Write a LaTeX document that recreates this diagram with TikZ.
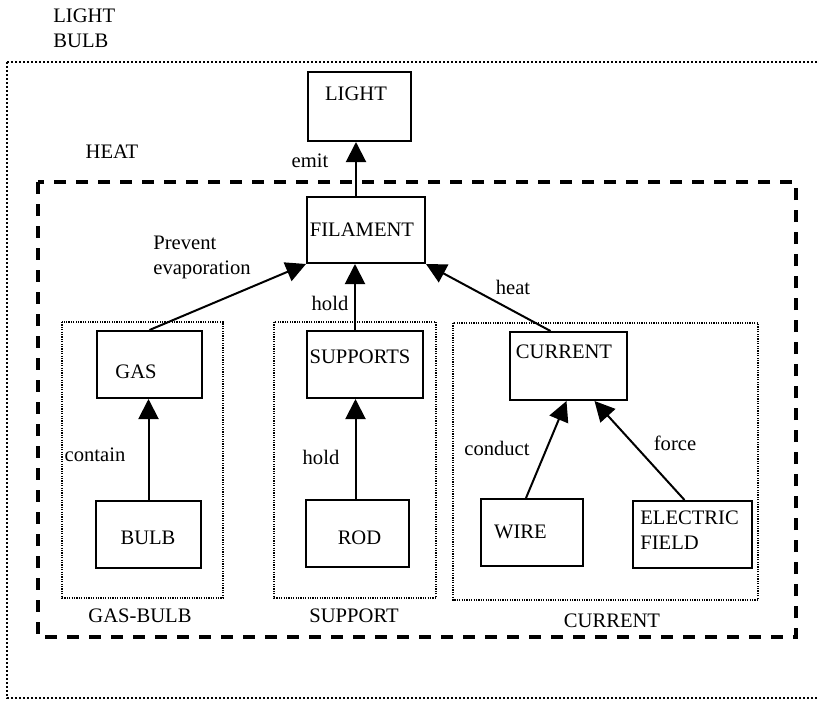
\documentclass[tikz,border=0pt]{standalone}
\usepackage{fontspec}
\setmainfont{Liberation Serif}
\usetikzlibrary{arrows.meta}

\begin{document}
\begin{tikzpicture}[x=0.5pt,y=-0.5pt,
        every node/.style={font=\fontsize{10.3}{12.5}\selectfont,inner sep=0pt},
        box/.style={draw,line width=1pt,minimum height=33.5pt},
        arr/.style={-{Triangle[width=10pt,length=10pt]},line width=1pt},
        grp/.style={line width=0.8pt,dash pattern=on 0.6pt off 0.6pt},
        outer/.style={line width=1.3pt,dash pattern=on 1.1pt off 0.9pt},
        heatbox/.style={line width=1.7pt,dash pattern=on 6pt off 5pt}
    ]
        \clip (0,0) rectangle (819,702);

        % frames
        \draw[outer] (7,62) rectangle (830,698);
        \draw[heatbox] (38,182) rectangle (796,637);
        \draw[grp] (62,322) rectangle (223,598);
        \draw[grp] (274,322) rectangle (436,598);
        \draw[grp] (453,323) rectangle (758,600);

        \node[anchor=west,align=left] (lb) at (53,28) {LIGHT\\BULB};
        \node (heatlbl) at (112,152) {HEAT};
        \node (gbl) at (140,616) {GAS-BULB};
        \node (spl) at (354,616) {SUPPORT};
        \node (crl) at (612,621) {CURRENT};

        % boxes
        \node[box,minimum width=51.5pt,minimum height=34.5pt] (light) at (359.5,106.5) {};
        \node (lightt) at (356,94) {LIGHT};
        \node[box,minimum width=59pt,minimum height=33pt] (fil) at (366,230) {};
        \node (filt) at (362,230) {FILAMENT};
        \node[box,minimum width=52.5pt] (gas) at (149.5,364.5) {};
        \node (gast) at (136,372) {GAS};
        \node[box,minimum width=52.5pt] (bulb) at (148.5,534.5) {};
        \node (bulbt) at (148,538) {BULB};
        \node[box,minimum width=58pt] (sup) at (365,364.5) {};
        \node (supt) at (360,357) {SUPPORTS};
        \node[box,minimum width=51.5pt] (rod) at (357.5,533.5) {};
        \node (rodt) at (359.5,538) {ROD};
        \node[box,minimum width=58.5pt,minimum height=34pt] (cur) at (568.5,366) {};
        \node (curt) at (564,352) {CURRENT};
        \node[box,minimum width=51pt] (wire) at (532,532.5) {};
        \node (wiret) at (520.5,532) {WIRE};
        \node[box,minimum width=59.5pt] (ef) at (692.5,534.5) {};
        \node[anchor=west,align=left] (eft) at (640,530.5) {ELECTRIC\\FIELD};

        % links
        \draw[arr] ([xshift=-5pt]fil.north) -- ([xshift=-5pt]fil.north |- light.south);
        \draw[arr] (gas.north) -- (fil.south west);
        \draw[arr] ([xshift=-5pt]sup.north) -- ([xshift=-5pt]sup.north |- fil.south);
        \draw[arr] ([xshift=-9pt]cur.north) -- (fil.south east);
        \draw[arr] (bulb.north) -- (bulb.north |- gas.south);
        \draw[arr] ([xshift=-1pt]rod.north) -- ([xshift=-1pt]rod.north |- sup.south);
        \draw[arr] ([xshift=-3pt]wire.north) -- ([xshift=-1pt]cur.south);
        \draw[arr] ([xshift=-4pt]ef.north) -- ([xshift=13pt]cur.south);

        \node (emit) at (310,161) {emit};
        \node[align=left] (prev) at (202,257) {Prevent\\evaporation};
        \node (hold1) at (330,303) {hold};
        \node (heat) at (513,287) {heat};
        \node (contain) at (95,455) {contain};
        \node (hold2) at (321,457) {hold};
        \node (conduct) at (497,448) {conduct};
        \node (force) at (675,443) {force};
    \end{tikzpicture}
\end{document}
